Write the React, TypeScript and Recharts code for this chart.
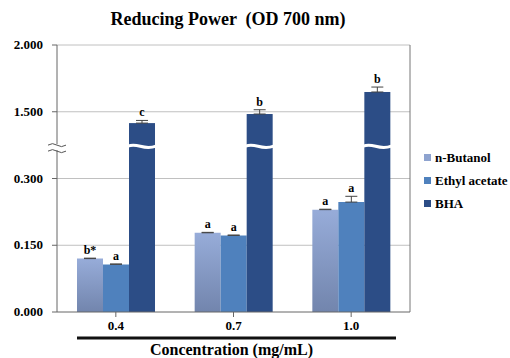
import React from 'react';
import { BarChart, Bar, XAxis, YAxis, CartesianGrid, Legend, ErrorBar, LabelList } from 'recharts';

const categories = ['0.4', '0.7', '1.0'];
const nButanol = [0.12, 0.178, 0.23];
const ethylAcetate = [0.107, 0.172, 0.247];
const bha = [1.415, 1.483, 1.648];
const nButanolErr = [0.001, 0.001, 0.001];
const ethylAcetateErr = [0.001, 0.001, 0.013];
const bhaErr = [0.02, 0.032, 0.037];
const nButanolLetters = ['b*', 'a', 'a'];
const ethylAcetateLetters = ['a', 'a', 'a'];
const bhaLetters = ['c', 'b', 'b'];
const tickLabels = ['0.000', '0.150', '0.300', '1.500', '2.000'];

const FONT = 'Liberation Serif, DejaVu Serif, serif';
const BREAK = 2.47;

// broken axis: 0-0.3 on the lower two bands, 1.0-2.0 on the upper two
const toAxis = (v: number) => (v <= 0.3 ? v / 0.15 : Math.max(2, 2 + (v - 1.0) / 0.5));
const errAxis = (v: number, e: number) => toAxis(v + e) - toAxis(v);

const rows = categories.map((c, i) => ({
  name: c,
  nb: toAxis(nButanol[i]),
  ea: toAxis(ethylAcetate[i]),
  bha: toAxis(bha[i]),
  nbErr: [0, errAxis(nButanol[i], nButanolErr[i])],
  eaErr: [0, errAxis(ethylAcetate[i], ethylAcetateErr[i])],
  bhaErr: [0, errAxis(bha[i], bhaErr[i])],
  nbL: nButanolLetters[i],
  eaL: ethylAcetateLetters[i],
  bhaL: bhaLetters[i],
}));

const legendItems = [
  { name: 'n-Butanol', color: '#8ea3cf' },
  { name: 'Ethyl acetate', color: '#4f81bd' },
  { name: 'BHA', color: '#2c4d86' },
];

const letterLabel = (key: string, errKey: string) => (props: any) => {
  const { x, y, width, height, index, value } = props;
  const row: any = rows[index];
  const px = row[key] ? height / row[key] : 0;
  const errPx = row[errKey][1] * px;
  return (
    <text x={x + width / 2} y={y - errPx - 4} textAnchor="middle" fontFamily={FONT} fontWeight="bold" fontSize={12} fill="#000">
      {value}
    </text>
  );
};

const BrokenBar = (props: any) => {
  const { x, y, width, height, fill, payload } = props;
  const by = y + height - (BREAK / payload.bha) * height;
  return (
    <g>
      <rect x={x} y={y} width={width} height={height} fill={fill} />
      <path
        d={`M ${x - 1} ${by - 1} C ${x + width * 0.35} ${by - 5}, ${x + width * 0.55} ${by + 4}, ${x + width + 1} ${by - 1}`}
        stroke="#fff"
        strokeWidth={3}
        fill="none"
      />
    </g>
  );
};

const YTick = (props: any) => {
  const { x, y, payload } = props;
  if (payload.value === BREAK) {
    const ax = x + 14;
    return (
      <g>
        <rect x={ax - 6} y={y - 3} width={12} height={6} fill="#fff" />
        <path d={`M ${ax - 9} ${y - 2} q 4.5 -3 9 0 t 9 0`} stroke="#555" fill="none" strokeWidth={1} />
        <path d={`M ${ax - 9} ${y + 4} q 4.5 -3 9 0 t 9 0`} stroke="#555" fill="none" strokeWidth={1} />
      </g>
    );
  }
  return (
    <text x={x} y={y} dy={4} textAnchor="end" fontFamily={FONT} fontWeight="bold" fontSize={13} fill="#000">
      {tickLabels[payload.value]}
    </text>
  );
};

const XLabel = (props: any) => {
  const { viewBox } = props;
  const { x, y, width } = viewBox;
  return (
    <g>
      <line x1={x + 20} x2={x + width - 14} y1={y + 26} y2={y + 26} stroke="#111" strokeWidth={3} />
      <text x={x + width / 2 - 2} y={y + 43} textAnchor="middle" fontFamily={FONT} fontWeight="bold" fontSize={16} fill="#000">
        Concentration (mg/mL)
      </text>
    </g>
  );
};

const LegendContent = () => (
  <div style={{ fontFamily: FONT, fontWeight: 'bold', fontSize: 13 }}>
    {legendItems.map((it) => (
      <div key={it.name} style={{ display: 'flex', alignItems: 'center', height: 23 }}>
        <span style={{ width: 7, height: 7, background: it.color, marginRight: 4, display: 'inline-block' }} />
        <span>{it.name}</span>
      </div>
    ))}
  </div>
);

export default function App() {
  return (
    <div style={{ position: 'relative', width: 510, height: 358, background: '#fff' }}>
      <style>{'body{margin:0}'}</style>
      <div
        style={{
          position: 'absolute',
          top: 9,
          left: 0,
          width: 456,
          textAlign: 'center',
          fontFamily: FONT,
          fontWeight: 'bold',
          fontSize: 18,
          whiteSpace: 'pre',
        }}
      >
        {'Reducing Power  (OD 700 nm)'}
      </div>
      <BarChart
        width={510}
        height={358}
        data={rows}
        margin={{ top: 45, right: 100, bottom: 0, left: 0 }}
        barCategoryGap="17%"
        barGap={0}
      >
        <defs>
          <linearGradient id="nbGrad" x1="0" y1="0" x2="0" y2="1">
            <stop offset="0%" stopColor="#97acd9" />
            <stop offset="100%" stopColor="#7285ad" />
          </linearGradient>
        </defs>
        <CartesianGrid vertical={false} horizontalValues={[1, 2, 3, 4]} stroke="#c0c0c0" />
        <CartesianGrid
          horizontal={false}
          verticalCoordinatesGenerator={({ offset }: any) => [offset.left + offset.width]}
          stroke="#777"
        />
        <XAxis
          dataKey="name"
          height={46}
          axisLine={{ stroke: '#666' }}
          tickLine={{ stroke: '#666' }}
          tickSize={5}
          tickMargin={4}
          tick={{ fontFamily: FONT, fontWeight: 'bold', fontSize: 13, fill: '#000' }}
          label={<XLabel />}
        />
        <YAxis
          type="number"
          domain={[0, 4]}
          ticks={[0, 1, 2, BREAK, 3, 4]}
          interval={0}
          width={57}
          tickSize={5}
          tickMargin={9}
          axisLine={{ stroke: '#666' }}
          tickLine={{ stroke: '#666' }}
          tick={<YTick />}
        />
        <Legend
          layout="vertical"
          align="center"
          verticalAlign="middle"
          wrapperStyle={{ left: 424, top: 146, width: 90 }}
          content={<LegendContent />}
        />
        <Bar dataKey="nb" name="n-Butanol" fill="url(#nbGrad)" isAnimationActive={false}>
          <ErrorBar dataKey="nbErr" width={6} stroke="#444" strokeWidth={1} direction="y" />
          <LabelList dataKey="nbL" content={letterLabel('nb', 'nbErr')} />
        </Bar>
        <Bar dataKey="ea" name="Ethyl acetate" fill="#4f81bd" isAnimationActive={false}>
          <ErrorBar dataKey="eaErr" width={6} stroke="#444" strokeWidth={1} direction="y" />
          <LabelList dataKey="eaL" content={letterLabel('ea', 'eaErr')} />
        </Bar>
        <Bar dataKey="bha" name="BHA" fill="#2c4d86" shape={<BrokenBar />} isAnimationActive={false}>
          <ErrorBar dataKey="bhaErr" width={6} stroke="#444" strokeWidth={1} direction="y" />
          <LabelList dataKey="bhaL" content={letterLabel('bha', 'bhaErr')} />
        </Bar>
      </BarChart>
    </div>
  );
}
